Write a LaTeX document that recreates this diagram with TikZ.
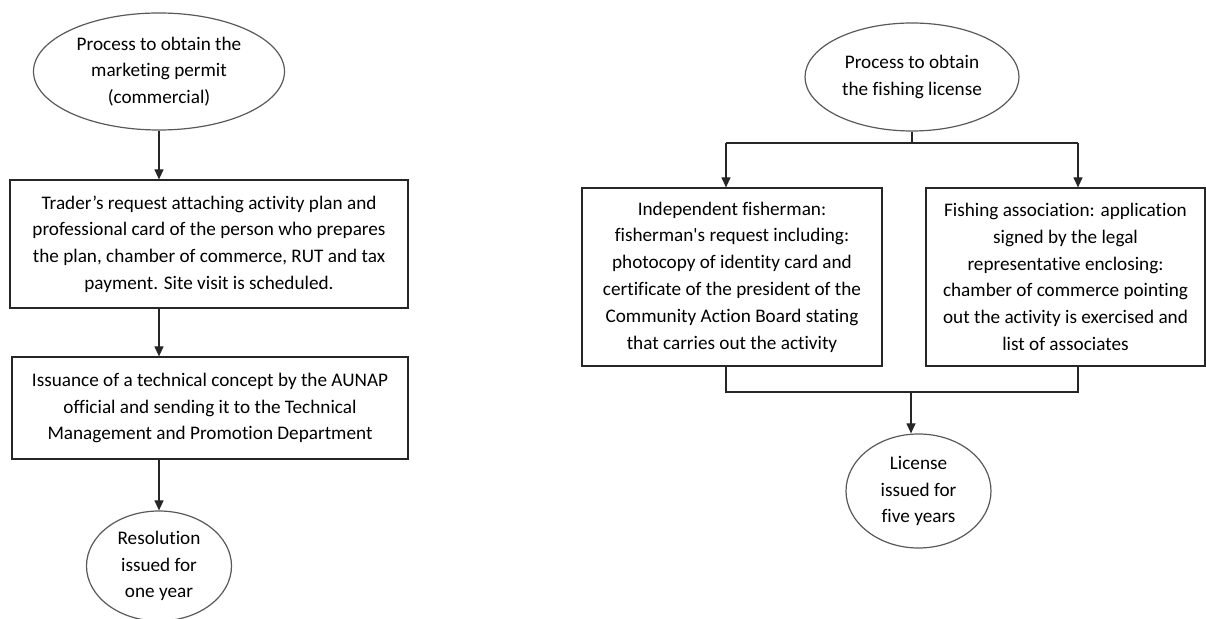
\documentclass[tikz,border=0pt]{standalone}
\usepackage{fontspec}
\setmainfont{Carlito}[Ligatures=CommonOff]
\usetikzlibrary{positioning, arrows.meta, shapes.geometric}
\tikzset{
    terminal/.style={ellipse, draw=black!65, line width=0.6pt, align=center, inner sep=0pt, font=\fontsize{9.6}{13.4}\selectfont},
    stepbox/.style={rectangle, draw=black!85, line width=0.6pt, align=center, inner sep=0pt, font=\fontsize{9.6}{13.4}\selectfont},
    arrow/.style={-{Triangle[width=4.5pt,length=5pt]}, draw=black!85, line width=0.6pt},
    link/.style={draw=black!85, line width=0.6pt}
}
\begin{document}
\begin{tikzpicture}[x=0.5pt, y=-0.5pt]
    \useasboundingbox (0,0) rectangle (1206,619);

    % marketing permit
    \node[terminal, minimum width=125.5pt, minimum height=58.5pt] (PermitStart) at (159,71.5) {Process to obtain the\\marketing permit\\(commercial)};
    \node[stepbox, minimum width=199pt, minimum height=64pt] (TraderReq) at (209,244) {Trader’s request attaching activity plan and\\professional card of the person who prepares\\the plan, chamber of commerce, RUT and tax\\payment. Site visit is scheduled.};
    \node[stepbox, minimum width=198pt, minimum height=51pt] (Concept) at (210,408) {Issuance of a technical concept by the AUNAP\\official and sending it to the Technical\\Management and Promotion Department};
    \node[terminal, minimum width=72.5pt, minimum height=55pt] (Resolution) at (159,566) {Resolution\\issued for\\one year};

    \draw[arrow] (PermitStart.south) -- (PermitStart.south |- TraderReq.north);
    \draw[arrow] (PermitStart.south |- TraderReq.south) -- (PermitStart.south |- Concept.north);
    \draw[arrow] (PermitStart.south |- Concept.south) -- (Resolution.north);

    % fishing license
    \node[terminal, minimum width=107pt, minimum height=54pt] (LicenseStart) at (912,77) {Process to obtain\\the fishing license};
    \node[stepbox, minimum width=150pt, minimum height=89pt] (IndepReq) at (732,277) {Independent fisherman:\\fisherman\textquotesingle s request including:\\photocopy of identity card and\\certificate of the president of the\\Community Action Board stating\\that carries out the activity};
    \node[stepbox, minimum width=139.5pt, minimum height=89pt] (AssocReq) at (1065.5,277) {Fishing association: application\\signed by the legal\\representative enclosing:\\chamber of commerce pointing\\out the activity is exercised and\\list of associates};
    \node[terminal, minimum width=72.5pt, minimum height=57pt] (LicenseEnd) at (918.5,491) {License\\issued for\\five years};

    \coordinate (SplitL) at (726,143);
    \coordinate (SplitR) at (1078,143);
    \coordinate (JoinL) at (726,392);
    \coordinate (JoinR) at (1078,392);
    \coordinate (JoinMid) at (911,392);

    \draw[link] (LicenseStart.south) -- (LicenseStart.south |- SplitL);
    \draw[link] (SplitL) -- (SplitR);
    \draw[arrow] (SplitL) -- (SplitL |- IndepReq.north);
    \draw[arrow] (SplitR) -- (SplitR |- AssocReq.north);
    \draw[link] (JoinL |- IndepReq.south) -- (JoinL) -- (JoinR) -- (JoinR |- AssocReq.south);
    \draw[arrow] (JoinMid) -- (JoinMid |- LicenseEnd.north);
\end{tikzpicture}
\end{document}
